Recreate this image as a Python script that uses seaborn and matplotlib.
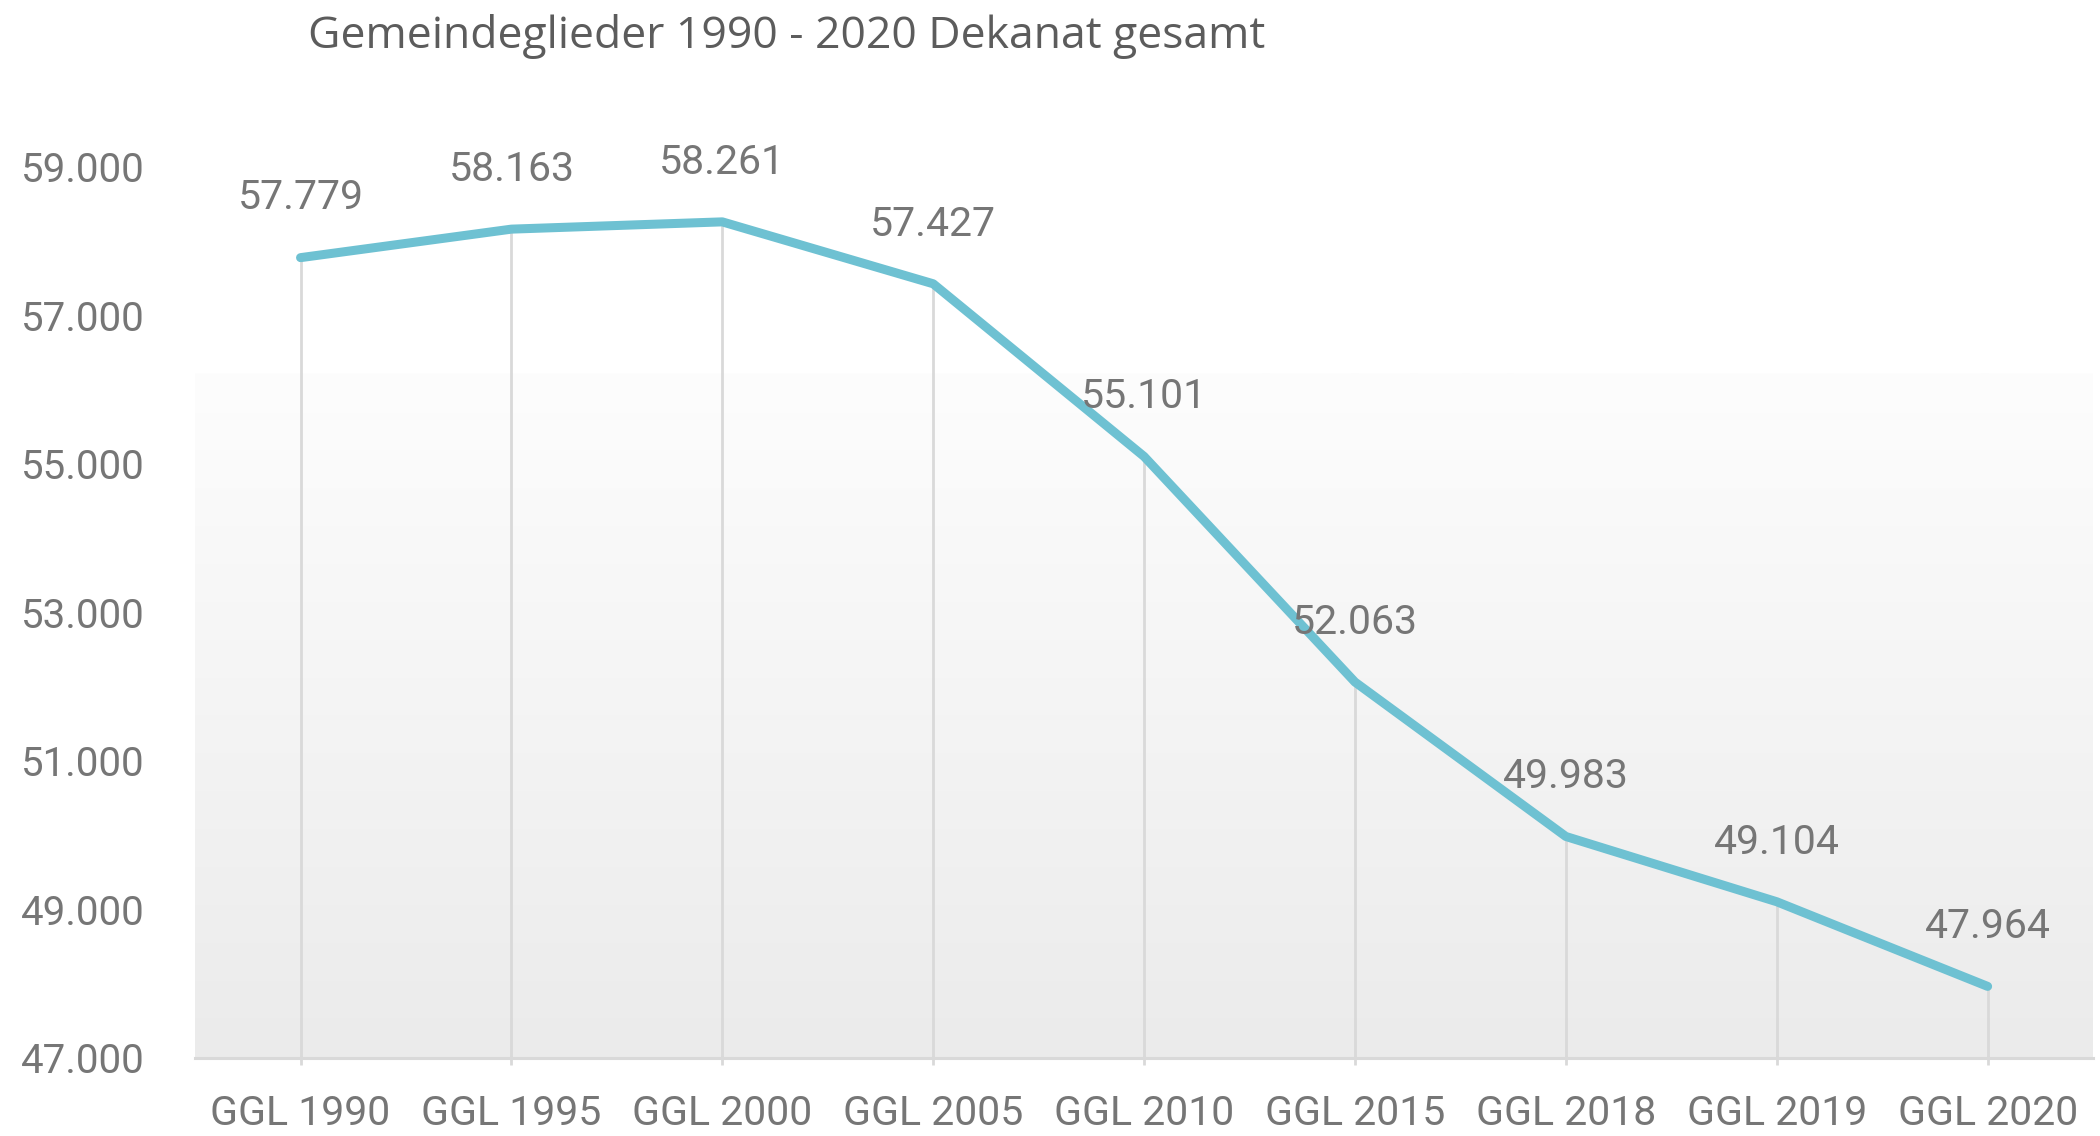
import matplotlib
matplotlib.use('Agg')
import matplotlib.pyplot as plt
from matplotlib.colors import LinearSegmentedColormap
from matplotlib.ticker import FuncFormatter
import seaborn as sns
import pandas as pd
import numpy as np

categories = ['GGL 1990', 'GGL 1995', 'GGL 2000', 'GGL 2005', 'GGL 2010',
              'GGL 2015', 'GGL 2018', 'GGL 2019', 'GGL 2020']
members = [57779, 58163, 58261, 57427, 55101, 52063, 49983, 49104, 47964]
y_ticks = [47000, 49000, 51000, 53000, 55000, 57000, 59000]

title = 'Gemeindeglieder 1990 - 2020 Dekanat gesamt'

line_color = '#6ec1d2'
text_color = '#767676'
grid_color = '#d9d9d9'
num_font = ['Roboto', 'Liberation Sans', 'DejaVu Sans']
fs = 29.5

sns.set_theme(style='white')
plt.rcParams['font.family'] = num_font

df = pd.DataFrame({'jahr': categories, 'gemeindeglieder': members})

fig = plt.figure(figsize=(21, 11.36), dpi=100)
ax = fig.add_axes([0.0929, 0.0687, 0.9038, 0.7843])

# gradient background of plot area
grad = np.linspace(0, 1, 256).reshape(-1, 1)
cmap = LinearSegmentedColormap.from_list('bg', ['#fdfdfd', '#ebebeb'])
ax.imshow(grad, extent=[0, 1, 0, 0.768], transform=ax.transAxes,
          aspect='auto', cmap=cmap, zorder=0, origin='upper')

ax.vlines(range(len(members)), y_ticks[0], members, color=grid_color,
          linewidth=2, zorder=1)

sns.lineplot(data=df, x='jahr', y='gemeindeglieder', ax=ax, color=line_color,
             linewidth=6.5, sort=False, zorder=3, solid_capstyle='round',
             solid_joinstyle='round')

for i, v in enumerate(members):
    ax.annotate(f'{v:,}'.replace(',', '.'), (i, v), xytext=(0, 43),
                textcoords='offset points', ha='center', va='center',
                fontsize=fs, color=text_color, zorder=4)

ax.set_xlim(-0.5, len(members) - 0.5)
ax.set_ylim(y_ticks[0], y_ticks[-1])
ax.set_yticks(y_ticks)
ax.yaxis.set_major_formatter(FuncFormatter(lambda v, p: f'{v:,.0f}'.replace(',', '.')))
ax.set_xticks(range(len(categories)))
ax.set_xticklabels(categories)
ax.set_xlabel('')
ax.set_ylabel('')

ax.tick_params(axis='y', length=0, pad=36.5, labelsize=fs - 0.5, labelcolor=text_color)
ax.tick_params(axis='x', length=5, width=2, color=grid_color, pad=21,
               labelsize=fs, labelcolor=text_color, direction='out')
ax.xaxis.set_ticks_position('bottom')

for s in ['top', 'right', 'left']:
    ax.spines[s].set_visible(False)
ax.spines['bottom'].set_color(grid_color)
ax.spines['bottom'].set_linewidth(2.2)
ax.set_facecolor('white')

fig.text(0.3748, 0.968, title, ha='center', va='center', fontsize=32,
         color='#5c5c5c', family=['Open Sans', 'DejaVu Sans'])

fig.savefig('out.png', dpi=100, facecolor='white')
